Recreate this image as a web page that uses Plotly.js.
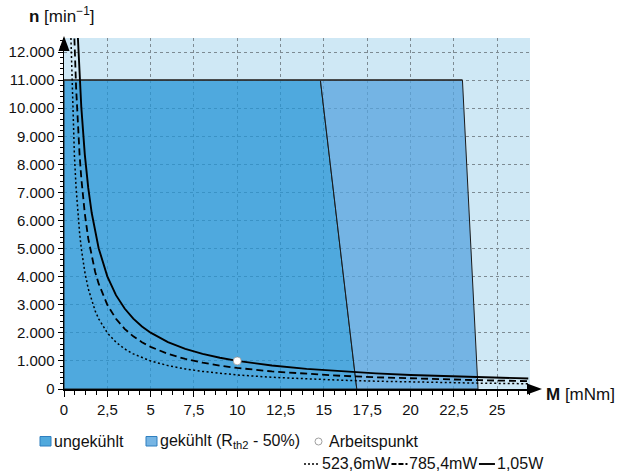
<!DOCTYPE html>
<html>
<head>
<meta charset="utf-8">
<script src="https://cdn.plot.ly/plotly-3.0.1.min.js"></script>
<style>html,body{margin:0;padding:0;background:#fff;}#chart{width:625px;height:475px;}</style>
</head>
<body>
<div id="chart"></div>
<script>
// ---- data ----
const regionLabels = ["ungekühlt", "gekühlt (R<sub>th2</sub> - 50%)"];
const ungekuehltM = [0, 0, 14.8, 16.9, 0];
const ungekuehltN = [0, 11000, 11000, 0, 0];
const gekuehltM = [14.8, 23.0, 23.9, 16.9, 14.8];
const gekuehltN = [11000, 11000, 0, 0, 11000];
const topEdgeM = [0, 23.0];
const topEdgeN = [11000, 11000];

const curveM = [0.4, 0.5, 0.6, 0.7, 0.8, 0.9, 1, 1.2, 1.4, 1.6, 1.8, 2, 2.5, 3, 3.5, 4, 4.5, 5, 6, 7, 8, 9, 10, 12, 14, 16, 18, 20, 22, 24, 26.8];
const n523 = [12500, 10000, 8333, 7143, 6250, 5556, 5000, 4167, 3571, 3125, 2778, 2500, 2000, 1667, 1429, 1250, 1111, 1000, 833, 714, 625, 556, 500, 417, 357, 313, 278, 250, 227, 208, 187];
const n785 = [18750, 15000, 12500, 10714, 9375, 8333, 7500, 6250, 5357, 4688, 4167, 3750, 3000, 2500, 2143, 1875, 1667, 1500, 1250, 1071, 938, 833, 750, 625, 536, 469, 417, 375, 341, 313, 280];
const n105 = [25068, 20054, 16712, 14324, 12534, 11141, 10027, 8356, 7162, 6267, 5571, 5014, 4011, 3342, 2865, 2507, 2228, 2005, 1671, 1432, 1253, 1114, 1003, 836, 716, 627, 557, 501, 456, 418, 374];
const curveLabels = ["523,6mW", "785,4mW", "1,05W"];

const pointM = [10];
const pointN = [1000];
const pointLabel = "Arbeitspunkt";

// ---- styling ----
const colUng = 'rgba(36,148,214,0.75)';
const colGek = 'rgba(86,163,221,0.75)';
const swUng = '#50a9dd', swGek = '#76b5e4', swBorder = '#2f7fbf';
const font = 'Liberation Sans, Arial, sans-serif';
const legendSize = 16;
const dashes = ['2px,2.5px', '7px,4px', 'solid'];
const legendDashes = ['2px,2px', '5px,2px', 'solid'];
const widths = [1.5, 1.8, 1.9];

// plot area in pixels (for placing legend decorations)
const W = 625, H = 475, L = 64, R = 95, T = 38, B = 86;
const pw = W - L - R, ph = H - T - B;
const px = v => (v - L) / pw;
const py = v => (H - B - v) / ph;

const traces = [
  {x: ungekuehltM, y: ungekuehltN, mode: 'lines', fill: 'toself', fillcolor: colUng, name: regionLabels[0],
   line: {color: '#1a1a1a', width: 1}, showlegend: false, hoverinfo: 'skip'},
  {x: gekuehltM, y: gekuehltN, mode: 'lines', fill: 'toself', fillcolor: colGek, name: regionLabels[1],
   line: {color: '#1a1a1a', width: 1}, showlegend: false, hoverinfo: 'skip'},
  {x: topEdgeM, y: topEdgeN, mode: 'lines', line: {color: '#333', width: 1.5}, showlegend: false},
  {x: curveM, y: n523, mode: 'lines', name: curveLabels[0], showlegend: false,
   line: {color: '#000', width: widths[0], dash: dashes[0]}},
  {x: curveM, y: n785, mode: 'lines', name: curveLabels[1], showlegend: false,
   line: {color: '#000', width: widths[1], dash: dashes[1]}},
  {x: curveM, y: n105, mode: 'lines', name: curveLabels[2], showlegend: false,
   line: {color: '#000', width: widths[2], dash: dashes[2]}},
  {x: pointM, y: pointN, mode: 'markers', name: pointLabel, showlegend: false,
   marker: {symbol: 'circle', size: 8, color: '#fff', line: {color: '#999', width: 0.8}}}
];

// measure text widths for the legend layout
const cv = document.createElement('canvas').getContext('2d');
cv.font = legendSize + 'px "Liberation Sans", Arial, sans-serif';
const tw = s => cv.measureText(s.replace(/<[^>]+>/g, '')).width;

const shapes = [
  // axis arrow heads
  {type: 'path', xref: 'paper', yref: 'paper', fillcolor: '#000', line: {width: 0},
   path: `M ${px(64)} ${py(36)} L ${px(58.5)} ${py(51)} L ${px(69.5)} ${py(51)} Z`},
  {type: 'path', xref: 'paper', yref: 'paper', fillcolor: '#000', line: {width: 0},
   path: `M ${px(542)} ${py(389)} L ${px(527)} ${py(383.5)} L ${px(527)} ${py(394.5)} Z`},
  // legend row 1 swatches
  {type: 'rect', xref: 'paper', yref: 'paper', x0: px(40), x1: px(51), y0: py(436.5), y1: py(446),
   fillcolor: swUng, line: {color: swBorder, width: 1}},
  {type: 'rect', xref: 'paper', yref: 'paper', x0: px(146), x1: px(157), y0: py(436.5), y1: py(446),
   fillcolor: swGek, line: {color: swBorder, width: 1}},
  {type: 'circle', xref: 'paper', yref: 'paper', x0: px(315), x1: px(322), y0: py(438), y1: py(445),
   fillcolor: '#fff', line: {color: '#888', width: 0.8}}
];

const annotations = [
  {xref: 'paper', yref: 'paper', x: -0.08, y: 1.0, xanchor: 'left', yanchor: 'bottom', yshift: 10,
   text: '<b>n</b> [min<sup>−1</sup>]', showarrow: false, font: {size: 17, family: font, color: '#111'}},
  {xref: 'paper', yref: 'paper', x: 1.03, y: 0, xanchor: 'left', yanchor: 'middle', yshift: -5,
   text: '<b>M</b> [mNm]', showarrow: false, font: {size: 17, family: font, color: '#111'}},
  {xref: 'paper', yref: 'paper', x: px(52), y: py(441), xanchor: 'left', yanchor: 'middle',
   text: regionLabels[0], showarrow: false, font: {size: legendSize, family: font, color: '#111'}},
  {xref: 'paper', yref: 'paper', x: px(158), y: py(441), xanchor: 'left', yanchor: 'middle',
   text: regionLabels[1], showarrow: false, font: {size: legendSize, family: font, color: '#111'}},
  {xref: 'paper', yref: 'paper', x: px(327), y: py(441), xanchor: 'left', yanchor: 'middle',
   text: pointLabel, showarrow: false, font: {size: legendSize, family: font, color: '#111'}}
];

// legend row 2: line samples + labels, laid out one after another
let cx = 304;
const rowY = 464;
curveLabels.forEach((lab, i) => {
  shapes.push({type: 'line', xref: 'paper', yref: 'paper', x0: px(cx), x1: px(cx + 16), y0: py(rowY), y1: py(rowY),
    line: {color: '#000', width: widths[i], dash: legendDashes[i]}});
  cx += 17;
  annotations.push({xref: 'paper', yref: 'paper', x: px(cx - 1), y: py(rowY), xanchor: 'left', yanchor: 'middle',
    text: lab, showarrow: false, font: {size: legendSize, family: font, color: '#111'}});
  cx += tw(lab) + 2;
});

const layout = {
  width: W, height: H,
  margin: {l: L, r: R, t: T, b: B},
  paper_bgcolor: '#fff',
  plot_bgcolor: '#cfe8f5',
  separators: ',.',
  showlegend: false,
  font: {family: font, size: 15, color: '#111'},
  xaxis: {
    range: [0, 26.9], dtick: 2.5, tick0: 0,
    showline: true, linecolor: '#000', linewidth: 1.5,
    ticks: 'outside', ticklen: 6, tickcolor: '#000', tickwidth: 1,
    showgrid: true, gridcolor: '#7d8a92', griddash: 'dot', gridwidth: 1,
    zeroline: false,
    minor: {dtick: 0.625, ticks: 'outside', ticklen: 4, tickcolor: '#000', showgrid: false},
    tickfont: {size: 15, family: font, color: '#111'}
  },
  yaxis: {
    range: [0, 12500], dtick: 1000, tick0: 0, tickformat: ',d',
    showline: true, linecolor: '#000', linewidth: 1.5,
    ticks: 'outside', ticklen: 5, tickcolor: '#000', tickwidth: 1,
    showgrid: true, gridcolor: '#7d8a92', griddash: 'dot', gridwidth: 1,
    zeroline: false,
    minor: {dtick: 200, ticks: 'outside', ticklen: 3, tickcolor: '#000', showgrid: false},
    tickfont: {size: 15, family: font, color: '#111'}
  },
  shapes: shapes,
  annotations: annotations
};

Plotly.newPlot('chart', traces, layout, {displayModeBar: false, staticPlot: true});
</script>
</body>
</html>
